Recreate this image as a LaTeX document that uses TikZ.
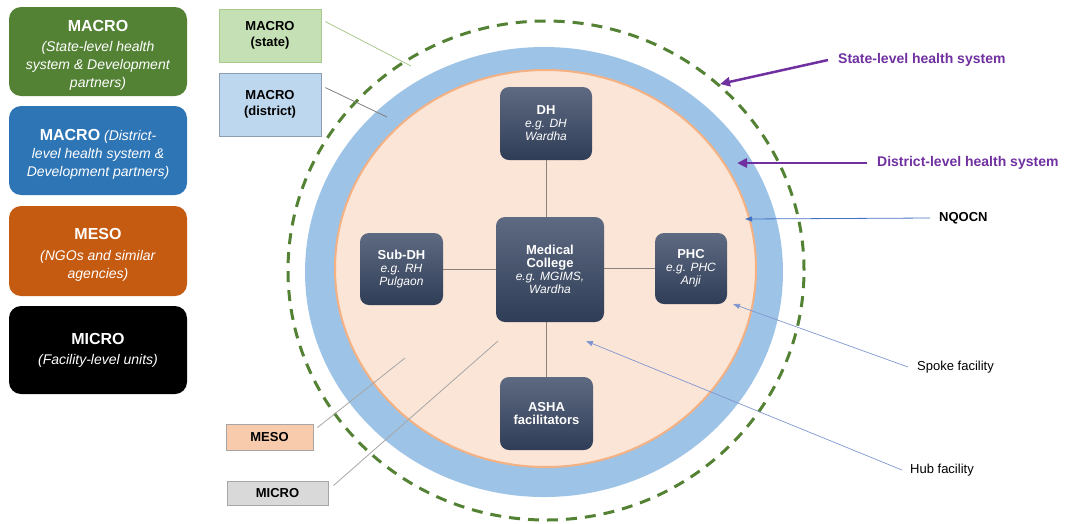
\documentclass[tikz,border=0pt]{standalone}
\usepackage{fontspec}
\setmainfont{Liberation Sans}
\usetikzlibrary{arrows.meta}

\definecolor{macroGreen}{HTML}{548235}
\definecolor{macroBlue}{HTML}{2E75B6}
\definecolor{mesoOrange}{HTML}{C55A11}
\definecolor{ringBlue}{HTML}{9DC3E6}
\definecolor{innerFill}{HTML}{FBE5D6}
\definecolor{innerEdge}{HTML}{F4B183}
\definecolor{darkTop}{HTML}{5E6A82}
\definecolor{darkBot}{HTML}{2F3D56}
\definecolor{linkGray}{HTML}{8C807A}
\definecolor{purpleArrow}{HTML}{7030A0}
\definecolor{blueArrow}{HTML}{4472C4}
\definecolor{paleBlueArrow}{HTML}{7F96D0}
\definecolor{stateFill}{HTML}{C5E0B4}
\definecolor{stateEdge}{HTML}{A9C98F}
\definecolor{distFill}{HTML}{BDD7EE}
\definecolor{distEdge}{HTML}{8C9DB0}
\definecolor{mesoFill}{HTML}{F8CBAD}
\definecolor{microFill}{HTML}{D9D9D9}
\definecolor{boxEdge}{HTML}{A6A6A6}

\tikzset{
  levelbox/.style={rectangle, rounded corners=12pt, minimum width=178pt,
    inner sep=0pt, text=white, align=center, font=\fontsize{14}{18}\selectfont},
  facility/.style={rectangle, rounded corners=9pt, top color=darkTop,
    bottom color=darkBot, inner sep=0pt, text=white, align=center,
    font=\fontsize{12}{13}\selectfont},
  tagbox/.style={rectangle, draw, line width=0.8pt, inner sep=0pt,
    align=center, font=\fontsize{13}{15.5}\selectfont\bfseries},
  link/.style={draw=linkGray, line width=0.8pt},
  tagline/.style={line width=0.8pt},
  bigarrow/.style={draw=purpleArrow, line width=2.5pt,
    -{Triangle[length=10pt,width=9pt]}},
  thinarrow/.style={draw=blueArrow, line width=0.8pt,
    -{Triangle[length=7pt,width=5pt]}},
  palearrow/.style={draw=paleBlueArrow, line width=0.7pt,
    -{Triangle[length=7pt,width=5pt]}},
  sidelabel/.style={anchor=west, inner sep=0pt, font=\fontsize{13}{15}\selectfont},
  purplelabel/.style={sidelabel, text=purpleArrow, font=\fontsize{14}{16}\selectfont\bfseries}
}
% strut that lowers the text block a little inside the legend boxes
\newcommand{\legendstrut}{\rule{0pt}{18pt}}

\begin{document}
\begin{tikzpicture}[x=1pt,y=-1pt]
\useasboundingbox (0,0) rectangle (1067,523);

% ---- level legend on the left ----
\node[levelbox, fill=macroGreen, minimum height=89pt] (lgState) at (98,51.5)
  {{\legendstrut\fontsize{16}{18}\selectfont\bfseries MACRO}\\[2pt]
   \textit{(State-level health}\\ \textit{system \& Development}\\ \textit{partners)}};
\node[levelbox, fill=macroBlue, minimum height=89pt] (lgDistrict) at (98,150.5)
  {{\legendstrut\fontsize{16}{18}\selectfont\bfseries MACRO} \textit{(District-}\\
   \textit{level health system \&}\\ \textit{Development partners)}};
\node[levelbox, fill=mesoOrange, minimum height=90pt] (lgMeso) at (98,251)
  {{\legendstrut\fontsize{16}{18}\selectfont\bfseries MESO}\\[3pt]
   \textit{(NGOs and similar}\\ \textit{agencies)}};
\node[levelbox, fill=black, minimum height=88pt] (lgMicro) at (98,350)
  {{\fontsize{16}{18}\selectfont\bfseries MICRO}\\[2pt]
   \textit{(Facility-level units)}};

% ---- nested health-system rings ----
\draw[macroGreen, line width=3pt, dash pattern=on 11pt off 8pt]
  (546,270.5) ellipse [x radius=258pt, y radius=249.5pt];
\fill[ringBlue] (544,272) ellipse [x radius=239pt, y radius=225pt];
\draw[innerEdge, fill=innerFill, line width=2pt]
  (545.5,268.5) ellipse [x radius=210.5pt, y radius=198.5pt];

% ---- facilities ----
\node[facility, minimum width=108pt, minimum height=105pt] (mc) at (550,269.5)
  {\fontsize{13}{13}\selectfont\bfseries Medical\\
   \fontsize{13}{13}\selectfont\bfseries College\\
   \textit{e.g. MGIMS,}\\ \textit{Wardha}};
\node[facility, minimum width=92pt, minimum height=73pt] (dh) at (546,123.5)
  {\fontsize{13}{13}\selectfont\bfseries DH\\ \textit{e.g. DH}\\ \textit{Wardha}};
\node[facility, minimum width=83pt, minimum height=72pt] (sub) at (401.5,269)
  {\fontsize{13}{13}\selectfont\bfseries Sub-DH\\ \textit{e.g. RH}\\ \textit{Pulgaon}};
\node[facility, minimum width=72pt, minimum height=71pt] (phc) at (691,268.5)
  {\fontsize{13}{13}\selectfont\bfseries PHC\\ \textit{e.g. PHC}\\ \textit{Anji}};
\node[facility, minimum width=93pt, minimum height=73pt] (asha) at (546.5,413.5)
  {\fontsize{13}{14}\selectfont\bfseries ASHA\\
   \fontsize{13}{14}\selectfont\bfseries facilitators};

% hub-and-spoke links
\path[link] (dh.south) -- (dh.south |- mc.north);
\path[link] (sub.east) -- (sub.east -| mc.west);
\path[link] (mc.east |- phc.west) -- (phc.west);
\path[link] (asha.north) -- (asha.north |- mc.south);

% ---- level tags with leader lines ----
\node[tagbox, fill=stateFill, draw=stateEdge, minimum width=102pt, minimum height=53pt]
  (tState) at (270,35.5) {MACRO\\(state)};
\node[tagbox, fill=distFill, draw=distEdge, minimum width=102pt, minimum height=63pt]
  (tDistrict) at (270,104.5) {MACRO\\(district)};
\node[tagbox, fill=mesoFill, draw=boxEdge, minimum width=87pt, minimum height=26pt]
  (tMeso) at (269.5,437) {MESO};
\node[tagbox, fill=microFill, draw=boxEdge, minimum width=101pt, minimum height=24pt]
  (tMicro) at (277.5,493) {MICRO};

\coordinate (inState) at (411,66);
\coordinate (inDistrict) at (387,117);
\coordinate (inMeso) at (405,358);
\coordinate (inMicro) at (498,341);

\draw[tagline, draw=stateEdge] ([shift={(4,13)}]tState.north east) -- (inState);
\draw[tagline, draw=gray] ([shift={(4,15)}]tDistrict.north east) -- (inDistrict);
\draw[tagline, draw=boxEdge] ([shift={(4,4)}]tMeso.north east) -- (inMeso);
\draw[tagline, draw=boxEdge] ([shift={(5,5)}]tMicro.north east) -- (inMicro);

% ---- callouts on the right ----
\node[purplelabel] (lState) at (838,60) {State-level health system};
\node[purplelabel] (lDistrict) at (877,163) {District-level health system};
\node[sidelabel, font=\fontsize{13}{15}\selectfont\bfseries] (lNqocn) at (939,218) {NQOCN};
\node[sidelabel] (lSpoke) at (917,367) {Spoke facility};
\node[sidelabel] (lHub) at (910,470) {Hub facility};

\coordinate (ptState) at (720,84);
\coordinate (ptDistrict) at (737,163);
\coordinate (ptNqocn) at (745,219);
\coordinate (ptSpoke) at (733,304);
\coordinate (ptHub) at (586,341);

\draw[bigarrow] ([xshift=-10pt]lState.west) -- (ptState);
\draw[bigarrow] ([xshift=-10pt]lDistrict.west) -- (ptDistrict);
\draw[thinarrow] ([xshift=-9pt]lNqocn.west) -- (ptNqocn);
\draw[palearrow] ([xshift=-9pt]lSpoke.west) -- (ptSpoke);
\draw[palearrow] ([xshift=-8pt]lHub.west) -- (ptHub);
\end{tikzpicture}
\end{document}
